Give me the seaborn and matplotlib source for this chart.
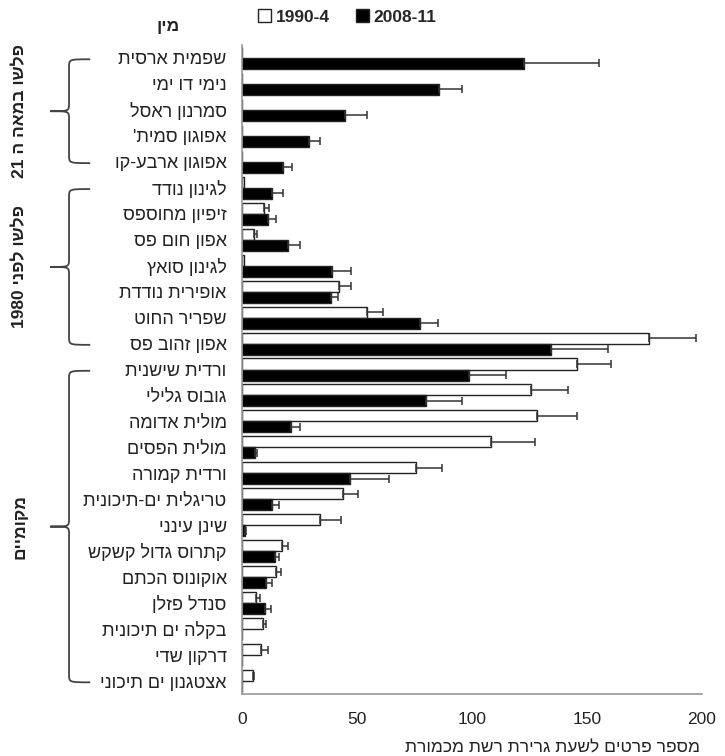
import numpy as np
import pandas as pd
import matplotlib
matplotlib.use("Agg")
import matplotlib.pyplot as plt
import matplotlib.transforms as mtransforms
from matplotlib.path import Path
from matplotlib.patches import PathPatch
import seaborn as sns

# species, top to bottom
species = ["שפמית ארסית", "נימי דו ימי", "סמרנון ראסל", "אפוגון סמית'", "אפוגון ארבע-קו",
           "לגינון נודד", "זיפיון מחוספס", "אפון חום פס", "לגינון סואץ", "אופירית נודדת",
           "שפריר החוט", "אפון זהוב פס",
           "ורדית שישנית", "גובוס גלילי", "מולית אדומה", "מולית הפסים", "ורדית קמורה",
           "טריגלית ים-תיכונית", "שינן עינני", "קתרוס גדול קשקש", "אוקונוס הכתם",
           "סנדל פזלן", "בקלה ים תיכונית", "דרקון שדי", "אצטגנון ים תיכוני"]

periods = ["1990-4", "2008-11"]

vals_1990 = [0, 0, 0, 0, 0,
             0.7, 9.7, 5.4, 0.7, 42.0, 54.3, 177.0,
             145.5, 125.7, 128.1, 108.4, 75.5, 44.0, 33.9, 17.2, 14.8, 5.9, 9.3, 8.1, 4.6]
err_1990 = [0, 0, 0, 0, 0,
            0, 2.0, 1.3, 0, 5.5, 6.9, 20.4,
            14.8, 16.0, 17.4, 19.0, 11.6, 6.6, 9.3, 2.7, 2.0, 1.9, 1.1, 3.1, 0.5]

vals_2008 = [122.6, 85.6, 44.8, 29.3, 18.0,
             13.2, 11.2, 19.9, 39.1, 38.6, 77.5, 134.3,
             98.5, 80.1, 21.2, 5.7, 47.0, 13.2, 1.5, 14.3, 10.4, 9.9, 0, 0, 0]
err_2008 = [32.5, 10.0, 9.5, 4.7, 3.6,
            4.5, 3.6, 5.3, 8.4, 3.3, 7.9, 24.7,
            16.4, 15.7, 4.0, 0.7, 16.8, 2.9, 0.3, 1.8, 2.8, 2.6, 0, 0, 0]

groups = ["פלשו במאה ה 21", "פלשו לפני 1980", "מקומיים"]
group_first = [0, 5, 12]
group_last = [4, 11, 24]

header = "מין"
xlabel = "מספר פרטים לשעת גרירת רשת מכמורת"


def rtl(s):
    # matplotlib has no bidi: reverse word order, reverse letters of Hebrew words
    out = []
    for w in s.split(" ")[::-1]:
        if any("\u0590" <= c <= "\u05ff" for c in w):
            out.append(w[::-1])
        else:
            out.append(w)
    return " ".join(out)


sns.set_style("white")
plt.rcParams['font.family'] = ['Liberation Sans', 'DejaVu Sans']

df = pd.DataFrame({
    "species": species * 2,
    "period": [periods[0]] * len(species) + [periods[1]] * len(species),
    "value": vals_1990 + vals_2008,
})
df["label"] = df["species"].map(rtl)

fig = plt.figure(figsize=(7.25, 7.56), dpi=100)
ax = fig.add_axes([242 / 725, 1 - 694 / 756, 460 / 725, 649 / 756])

sns.barplot(data=df, y="label", x="value", hue="period", hue_order=periods,
            palette={"1990-4": "white", "2008-11": "black"}, orient="h",
            width=0.85, gap=0, edgecolor="#222222", linewidth=1.0,
            errorbar=None, ax=ax)

# error bars (one side only)
for cont, errs in zip(ax.containers, [err_1990, err_2008]):
    for bar, e in zip(cont, errs):
        if e <= 0:
            continue
        y = bar.get_y() + bar.get_height() / 2
        ax.errorbar(bar.get_width(), y, xerr=[[0], [e]], fmt="none",
                    ecolor="#333333", elinewidth=1.1, capsize=3, capthick=1.1)

ax.set_xlim(0, 200)
ax.set_ylim(len(species) - 0.5, -0.5)
ax.set_xticks([0, 50, 100, 150, 200])
ax.set_ylabel("")
ax.set_xlabel(rtl(xlabel), fontsize=12.5, color="#222222", ha="right")
ax.xaxis.set_label_coords(0.995, -0.072)
ax.tick_params(axis="x", direction="in", length=4, color="#888888", pad=13,
               labelsize=12.5, labelcolor="#222222")
ax.tick_params(axis="y", length=0, pad=11, labelsize=13, labelcolor="#222222")
for s in ["top", "right"]:
    ax.spines[s].set_visible(False)
for s in ["left", "bottom"]:
    ax.spines[s].set_color("#999999")
    ax.spines[s].set_linewidth(1.2)

ax.legend(ncol=2, frameon=False, loc="center left", bbox_to_anchor=(0.02, 1.043),
          handlelength=0.75, handleheight=0.75, handletextpad=0.25,
          columnspacing=1.5, prop={"weight": "bold", "size": 12.5}, borderaxespad=0)

ax.text(-0.161, 1.029, rtl(header), transform=ax.transAxes, ha="center", va="center",
        fontsize=12.5, fontweight="bold", color="#222222")

# group braces and labels
trans = mtransforms.blended_transform_factory(ax.transAxes, ax.transData)
xh, xv, xt = -0.330, -0.376, -0.417
r = 0.3
for g, y0, y1 in zip(groups, group_first, group_last):
    y0 = y0 + 0.05
    y1 = y1 + 0.05
    ym = (y0 + y1) / 2
    verts = [(xh, y0), (xv, y0), (xv, y0), (xv, y0 + r),
             (xv, ym - r), (xv, ym), (xv, ym), (xt, ym),
             (xv, ym), (xv, ym), (xv, ym + r),
             (xv, y1 - r), (xv, y1), (xv, y1), (xh, y1)]
    codes = [Path.MOVETO, Path.CURVE4, Path.CURVE4, Path.CURVE4,
             Path.LINETO, Path.CURVE4, Path.CURVE4, Path.CURVE4,
             Path.CURVE4, Path.CURVE4, Path.CURVE4,
             Path.LINETO, Path.CURVE4, Path.CURVE4, Path.CURVE4]
    ax.add_patch(PathPatch(Path(verts, codes), transform=trans, fill=False,
                           edgecolor="#444444", lw=1.3, clip_on=False))
    ax.text(-0.483, ym, rtl(g), transform=trans, rotation=90, ha="center",
            va="center", fontsize=12.5, fontweight="bold", color="#222222")

fig.savefig("out.png", dpi=100)
